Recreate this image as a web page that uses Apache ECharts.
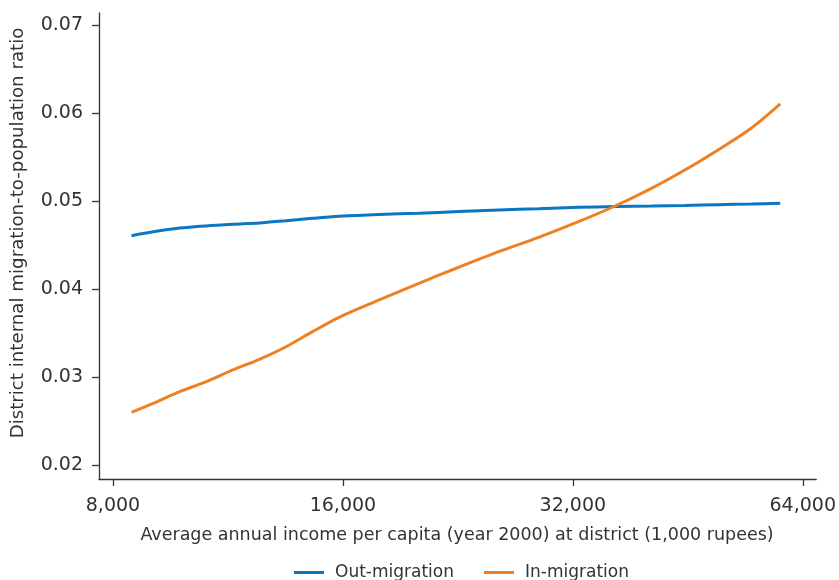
<!DOCTYPE html>
<html>
<head>
<meta charset="utf-8">
<script src="https://cdn.jsdelivr.net/npm/echarts@6/dist/echarts.min.js"></script>
<style>
html,body{margin:0;padding:0;background:#fff;}
#chart{width:839px;height:580px;}
</style>
</head>
<body>
<div id="chart"></div>
<script>
// Income per capita (rupees) at which the curves were read
const income = [8460, 9030, 9780, 10600, 11480, 12440, 13480, 14600, 15820, 17850, 20120, 22690, 25590, 28860, 32550, 36340, 40560, 44850, 49570, 54790, 59800];
const outMigration = [0.04606, 0.04650, 0.04692, 0.04717, 0.04735, 0.04750, 0.04776, 0.04803, 0.04826, 0.04847, 0.04860, 0.04880, 0.04898, 0.04913, 0.04928, 0.04936, 0.04942, 0.04949, 0.04958, 0.04966, 0.04974];
const inMigration = [0.02599, 0.02701, 0.02833, 0.02947, 0.03080, 0.03201, 0.03344, 0.03515, 0.03678, 0.03875, 0.04065, 0.04247, 0.04424, 0.04587, 0.04765, 0.04943, 0.05144, 0.05352, 0.05580, 0.05826, 0.06102];
const xTicks = [8000, 16000, 32000, 64000];
const yTicks = [0.02, 0.03, 0.04, 0.05, 0.06, 0.07];
const seriesNames = ['Out-migration', 'In-migration'];
const xTitle = 'Average annual income per capita (year 2000) at district (1,000 rupees)';
const yTitle = 'District internal migration-to-population ratio';

const FONT = 'DejaVu Sans';
const TXT = '#333333';
const AX = '#333333';
const log2 = v => Math.log(v) / Math.LN2;

const chart = echarts.init(document.getElementById('chart'), null, {renderer: 'canvas'});
const toData = arr => income.map((x, i) => [log2(x), arr[i]]);

chart.setOption({
  animation: false,
  backgroundColor: '#ffffff',
  grid: {left: 99, right: 20, top: 13, bottom: 101, containLabel: false},
  xAxis: {
    type: 'value',
    min: log2(7670),
    max: log2(66650),
    splitLine: {show: false},
    axisLine: {show: true, lineStyle: {color: AX, width: 1.3}},
    axisTick: {show: true, length: 7, lineStyle: {color: AX, width: 1.3}, customValues: xTicks.map(log2)},
    axisLabel: {
      show: true, margin: 18, color: TXT, fontFamily: FONT, fontSize: 19,
      customValues: xTicks.map(log2),
      formatter: v => (Math.round(Math.pow(2, v) / 1000) * 1000).toLocaleString('en-US')
    }
  },
  yAxis: {
    type: 'value',
    min: 0.01841,
    max: 0.07136,
    splitLine: {show: false},
    axisLine: {show: true, lineStyle: {color: AX, width: 1.3}},
    axisTick: {show: true, length: 7, lineStyle: {color: AX, width: 1.3}, customValues: yTicks},
    axisLabel: {
      show: true, margin: 16, color: TXT, fontFamily: FONT, fontSize: 19,
      customValues: yTicks,
      formatter: v => v.toFixed(2)
    }
  },
  legend: {
    top: 559,
    left: 289,
    itemWidth: 30,
    itemHeight: 3,
    itemGap: 30,
    icon: 'rect',
    textStyle: {color: TXT, fontFamily: FONT, fontSize: 17, padding: [0, 0, 0, 6]},
    data: seriesNames
  },
  graphic: [
    {
      type: 'text', x: 457, y: 535,
      style: {text: xTitle, fill: TXT, font: '17.5px "' + FONT + '"', align: 'center', verticalAlign: 'middle'}
    },
    {
      type: 'text', x: 18, y: 233, rotation: Math.PI / 2,
      style: {text: yTitle, fill: TXT, font: '18.2px "' + FONT + '"', align: 'center', verticalAlign: 'middle'}
    }
  ],
  series: [
    {
      name: seriesNames[0], type: 'line', data: toData(outMigration), smooth: 0.3,
      showSymbol: false, symbol: 'none', color: '#0b77c2',
      lineStyle: {width: 3, color: '#0b77c2'}
    },
    {
      name: seriesNames[1], type: 'line', data: toData(inMigration), smooth: 0.3,
      showSymbol: false, symbol: 'none', color: '#ee8024',
      lineStyle: {width: 3, color: '#ee8024'}
    }
  ]
});
</script>
</body>
</html>
